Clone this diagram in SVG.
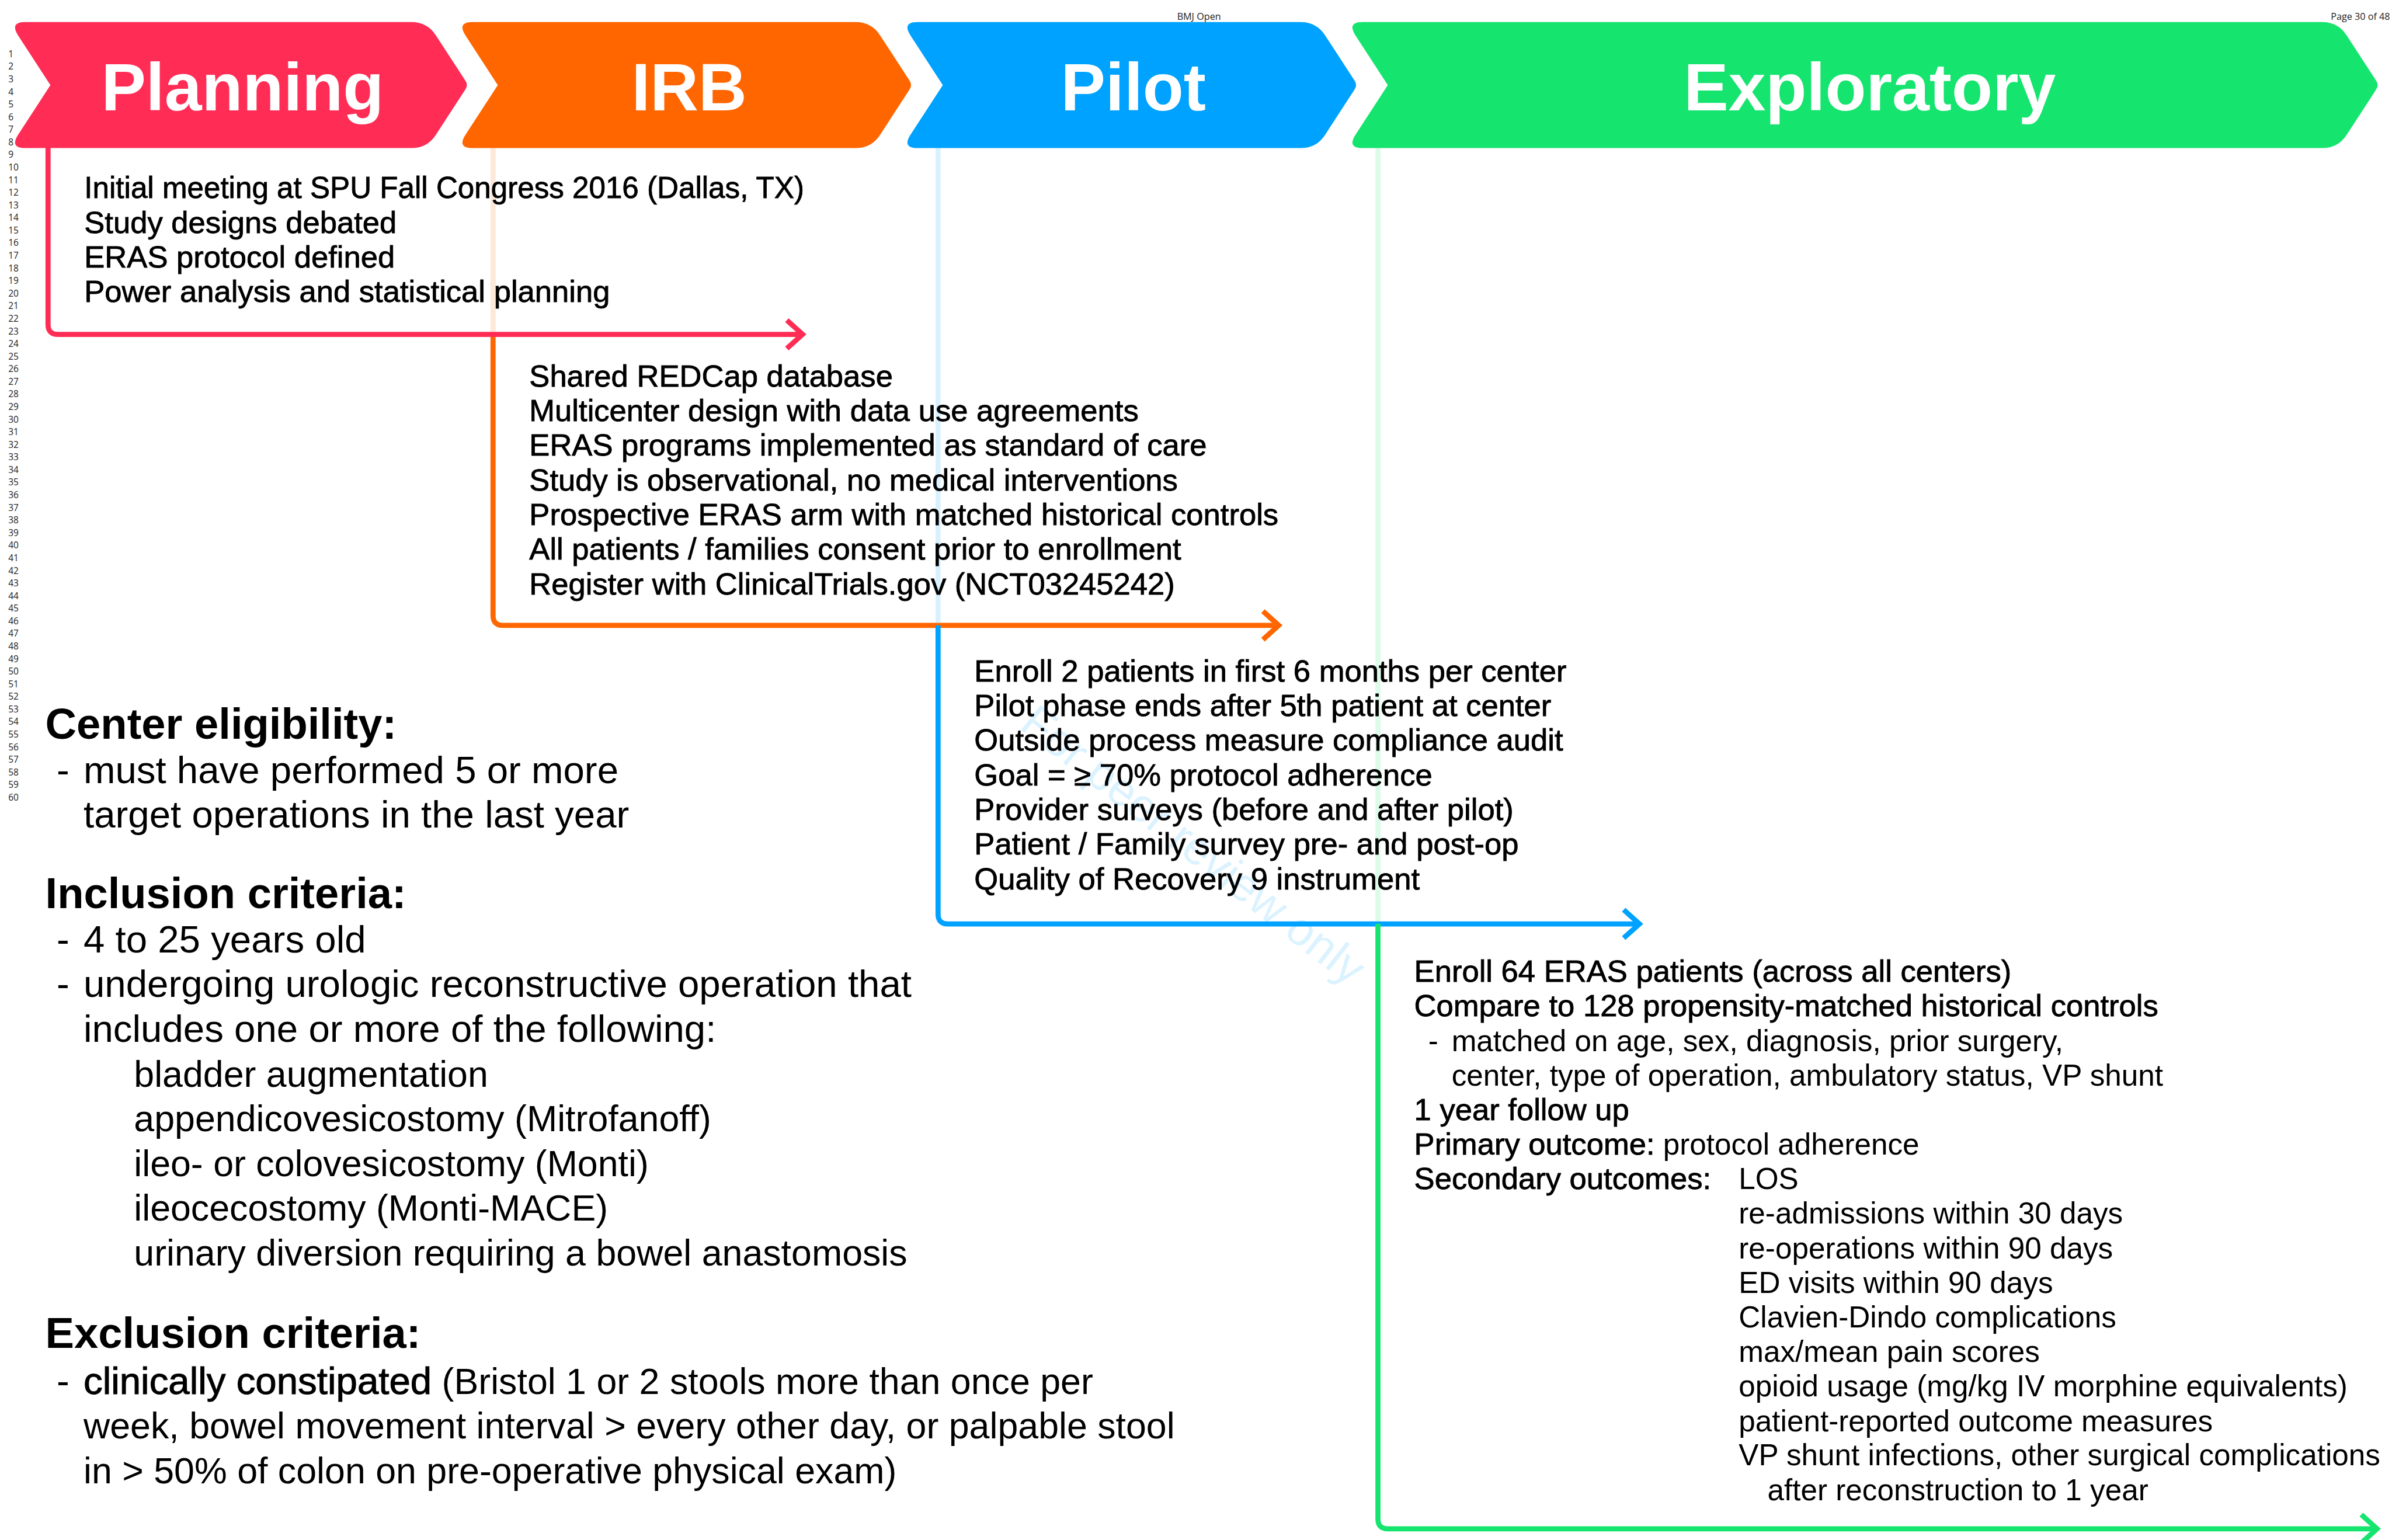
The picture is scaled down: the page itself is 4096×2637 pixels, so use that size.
<svg xmlns="http://www.w3.org/2000/svg" width="4096" height="2637" viewBox="0 0 4096 2637">
<style>
.ln{font-family:"Open Sans","Liberation Sans",sans-serif;font-size:23px;fill:#222}
.hd{font-family:"Open Sans","Liberation Sans",sans-serif;font-size:24px;fill:#222}
.ch{font-family:"Liberation Sans",Arial,sans-serif;font-weight:bold;font-size:170px;fill:#fff;text-anchor:middle}
.m{font-family:"Liberation Sans",Arial,sans-serif;font-size:78px;fill:#000;stroke:#000;stroke-width:1.3}
.r{font-family:"Liberation Sans",Arial,sans-serif;font-size:76px;fill:#000}
.rm{stroke:none}
.h{font-family:"Liberation Sans",Arial,sans-serif;font-weight:bold;font-size:110px;fill:#000}
.l{font-family:"Liberation Sans",Arial,sans-serif;font-size:97px;fill:#000}
.s{font-size:93px}
.lm{stroke:#000;stroke-width:1.6;font-size:97px}
.wm{font-family:"Liberation Sans",Arial,sans-serif;font-size:118px;fill:#00A2FF;fill-opacity:0.14}
.c{fill:none;stroke-width:13;stroke-linejoin:miter;stroke-linecap:butt}
.f{fill:none;stroke-width:13;stroke-opacity:0.15}
</style>
<rect width="4096" height="2637" fill="#fff"/>
<g transform="scale(0.67435)">
  <g id="header">
    <text class="hd" x="2989" y="50">BMJ Open</text>
    <text class="hd" x="6069" y="50" text-anchor="end">Page 30 of 48</text>
  </g>
  <g id="line-numbers">
    <text class="ln"><tspan x="21" y="145">1</tspan><tspan x="21" dy="32">2</tspan><tspan x="21" dy="32">3</tspan><tspan x="21" dy="32">4</tspan><tspan x="21" dy="32">5</tspan><tspan x="21" dy="32">6</tspan><tspan x="21" dy="32">7</tspan><tspan x="21" dy="32">8</tspan><tspan x="21" dy="32">9</tspan><tspan x="21" dy="32">10</tspan><tspan x="21" dy="32">11</tspan><tspan x="21" dy="32">12</tspan><tspan x="21" dy="32">13</tspan><tspan x="21" dy="32">14</tspan><tspan x="21" dy="32">15</tspan><tspan x="21" dy="32">16</tspan><tspan x="21" dy="32">17</tspan><tspan x="21" dy="32">18</tspan><tspan x="21" dy="32">19</tspan><tspan x="21" dy="32">20</tspan><tspan x="21" dy="32">21</tspan><tspan x="21" dy="32">22</tspan><tspan x="21" dy="32">23</tspan><tspan x="21" dy="32">24</tspan><tspan x="21" dy="32">25</tspan><tspan x="21" dy="32">26</tspan><tspan x="21" dy="32">27</tspan><tspan x="21" dy="32">28</tspan><tspan x="21" dy="32">29</tspan><tspan x="21" dy="32">30</tspan><tspan x="21" dy="32">31</tspan><tspan x="21" dy="32">32</tspan><tspan x="21" dy="32">33</tspan><tspan x="21" dy="32">34</tspan><tspan x="21" dy="32">35</tspan><tspan x="21" dy="32">36</tspan><tspan x="21" dy="32">37</tspan><tspan x="21" dy="32">38</tspan><tspan x="21" dy="32">39</tspan><tspan x="21" dy="32">40</tspan><tspan x="21" dy="32">41</tspan><tspan x="21" dy="32">42</tspan><tspan x="21" dy="32">43</tspan><tspan x="21" dy="32">44</tspan><tspan x="21" dy="32">45</tspan><tspan x="21" dy="32">46</tspan><tspan x="21" dy="32">47</tspan><tspan x="21" dy="32">48</tspan><tspan x="21" dy="32">49</tspan><tspan x="21" dy="32">50</tspan><tspan x="21" dy="32">51</tspan><tspan x="21" dy="32">52</tspan><tspan x="21" dy="32">53</tspan><tspan x="21" dy="32">54</tspan><tspan x="21" dy="32">55</tspan><tspan x="21" dy="32">56</tspan><tspan x="21" dy="32">57</tspan><tspan x="21" dy="32">58</tspan><tspan x="21" dy="32">59</tspan><tspan x="21" dy="32">60</tspan></text>
  </g>
  <g id="watermark">
    <text class="wm" transform="translate(2585,1848) rotate(38)">For peer review only</text>
  </g>
  <g id="connectors">
    <path class="f" stroke="#FF6600" d="M1252,376 V843"/>
    <path class="f" stroke="#00A2FF" d="M2382,376 V1582"/>
    <path class="f" stroke="#15E46E" d="M3499,376 V2340"/>
    <path class="c" stroke="#FF6600" d="M1252,849 V1563 Q1252,1588 1277,1588 H3245"/>
    <polyline class="c" stroke="#FF6600" points="3207,1552 3247,1588 3207,1624"/>
    <path class="c" stroke="#00A2FF" d="M2382,1588 V2321 Q2382,2346 2407,2346 H4161"/>
    <polyline class="c" stroke="#00A2FF" points="4123,2310 4163,2346 4123,2382"/>
    <path class="c" stroke="#15E46E" d="M3499,2346 V3857 Q3499,3882 3524,3882 H6034"/>
    <polyline class="c" stroke="#15E46E" points="5996,3846 6036,3882 5996,3918"/>
    <path class="c" stroke="#FF2D55" d="M122,370 V824 Q122,849 147,849 H2036"/>
    <polyline class="c" stroke="#FF2D55" points="1998,813 2038,849 1998,885"/>
  </g>
  <g id="planning">
    <path fill="#FF2D55" d="M46,90 Q24,56 64,56 H1045 Q1085,56 1107,90 L1180,202 Q1191,216 1180,230 L1107,342 Q1085,376 1045,376 H64 Q24,376 46,342 L128,216 Z"/>
    <text class="ch" x="616" y="280">Planning</text>
    <text class="m" x="214" y="503" textLength="1828" lengthAdjust="spacingAndGlyphs">Initial meeting at SPU Fall Congress 2016 (Dallas, TX)</text>
    <text class="m" x="214" y="591">Study designs debated</text>
    <text class="m" x="214" y="679">ERAS protocol defined</text>
    <text class="m" x="214" y="767">Power analysis and statistical planning</text>
  </g>
  <g id="irb">
    <path fill="#FF6600" d="M1182,90 Q1160,56 1200,56 H2173 Q2213,56 2235,90 L2308,202 Q2319,216 2308,230 L2235,342 Q2213,376 2173,376 H1200 Q1160,376 1182,342 L1264,216 Z"/>
    <text class="ch" x="1750" y="280">IRB</text>
    <text class="m" x="1344" y="981">Shared REDCap database</text>
    <text class="m" x="1344" y="1069">Multicenter design with data use agreements</text>
    <text class="m" x="1344" y="1157">ERAS programs implemented as standard of care</text>
    <text class="m" x="1344" y="1245">Study is observational, no medical interventions</text>
    <text class="m" x="1344" y="1333">Prospective ERAS arm with matched historical controls</text>
    <text class="m" x="1344" y="1421">All patients / families consent prior to enrollment</text>
    <text class="m" x="1344" y="1509">Register with ClinicalTrials.gov (NCT03245242)</text>
  </g>
  <g id="pilot">
    <path fill="#00A2FF" d="M2312,90 Q2290,56 2330,56 H3303 Q3343,56 3365,90 L3438,202 Q3449,216 3438,230 L3365,342 Q3343,376 3303,376 H2330 Q2290,376 2312,342 L2394,216 Z"/>
    <text class="ch" x="2878" y="280">Pilot</text>
    <text class="m" x="2474" y="1730">Enroll 2 patients in first 6 months per center</text>
    <text class="m" x="2474" y="1818">Pilot phase ends after 5th patient at center</text>
    <text class="m" x="2474" y="1906">Outside process measure compliance audit</text>
    <text class="m" x="2474" y="1994">Goal = ≥ 70% protocol adherence</text>
    <text class="m" x="2474" y="2082">Provider surveys (before and after pilot)</text>
    <text class="m" x="2474" y="2170">Patient / Family survey pre- and post-op</text>
    <text class="m" x="2474" y="2258">Quality of Recovery 9 instrument</text>
  </g>
  <g id="exploratory">
    <path fill="#15E46E" d="M3442,90 Q3420,56 3460,56 H5897 Q5937,56 5959,90 L6032,202 Q6043,216 6032,230 L5959,342 Q5937,376 5897,376 H3460 Q3420,376 3442,342 L3524,216 Z"/>
    <text class="ch" x="4748" y="280">Exploratory</text>
    <text class="m" x="3591" y="2493">Enroll 64 ERAS patients (across all centers)</text>
    <text class="m" x="3591" y="2581">Compare to 128 propensity-matched historical controls</text>
    <text class="r" x="3627" y="2669">-</text>
    <text class="r" x="3686" y="2669">matched on age, sex, diagnosis, prior surgery,</text>
    <text class="r" x="3686" y="2756">center, type of operation, ambulatory status, VP shunt</text>
    <text class="m" x="3591" y="2844">1 year follow up</text>
    <text class="m" x="3591" y="2932">Primary outcome:<tspan class="rm" font-size="76"> protocol adherence</tspan></text>
    <text class="m" x="3591" y="3019">Secondary outcomes:</text>
    <text class="r" x="4415" y="3019">LOS</text>
    <text class="r" x="4415" y="3107">re-admissions within 30 days</text>
    <text class="r" x="4415" y="3195">re-operations within 90 days</text>
    <text class="r" x="4415" y="3283">ED visits within 90 days</text>
    <text class="r" x="4415" y="3370">Clavien-Dindo complications</text>
    <text class="r" x="4415" y="3458">max/mean pain scores</text>
    <text class="r" x="4415" y="3546">opioid usage (mg/kg IV morphine equivalents)</text>
    <text class="r" x="4415" y="3634">patient-reported outcome measures</text>
    <text class="r" x="4415" y="3721">VP shunt infections, other surgical complications</text>
    <text class="r" x="4488" y="3809">after reconstruction to 1 year</text>
  </g>
  <g id="criteria">
    <text class="h" x="115" y="1876">Center eligibility:</text>
    <text class="l" x="144" y="1989">-</text>
    <text class="l" x="212" y="1989">must have performed 5 or more</text>
    <text class="l" x="212" y="2102">target operations in the last year</text>
    <text class="h" x="115" y="2306">Inclusion criteria:</text>
    <text class="l" x="144" y="2419">-</text>
    <text class="l" x="212" y="2419">4 to 25 years old</text>
    <text class="l" x="144" y="2532">-</text>
    <text class="l" x="212" y="2532">undergoing urologic reconstructive operation that</text>
    <text class="l" x="212" y="2646">includes one or more of the following:</text>
    <text class="l s" x="340" y="2759">bladder augmentation</text>
    <text class="l s" x="340" y="2873">appendicovesicostomy (Mitrofanoff)</text>
    <text class="l s" x="340" y="2986">ileo- or colovesicostomy (Monti)</text>
    <text class="l s" x="340" y="3100">ileocecostomy (Monti-MACE)</text>
    <text class="l s" x="340" y="3213">urinary diversion requiring a bowel anastomosis</text>
    <text class="h" x="115" y="3423">Exclusion criteria:</text>
    <text class="l" x="144" y="3540">-</text>
    <text class="l s" x="212" y="3540"><tspan class="lm">clinically constipated</tspan> (Bristol 1 or 2 stools more than once per</text>
    <text class="l s" x="212" y="3653">week, bowel movement interval &gt; every other day, or palpable stool</text>
    <text class="l s" x="212" y="3766">in &gt; 50% of colon on pre-operative physical exam)</text>
  </g>
</g>
</svg>
